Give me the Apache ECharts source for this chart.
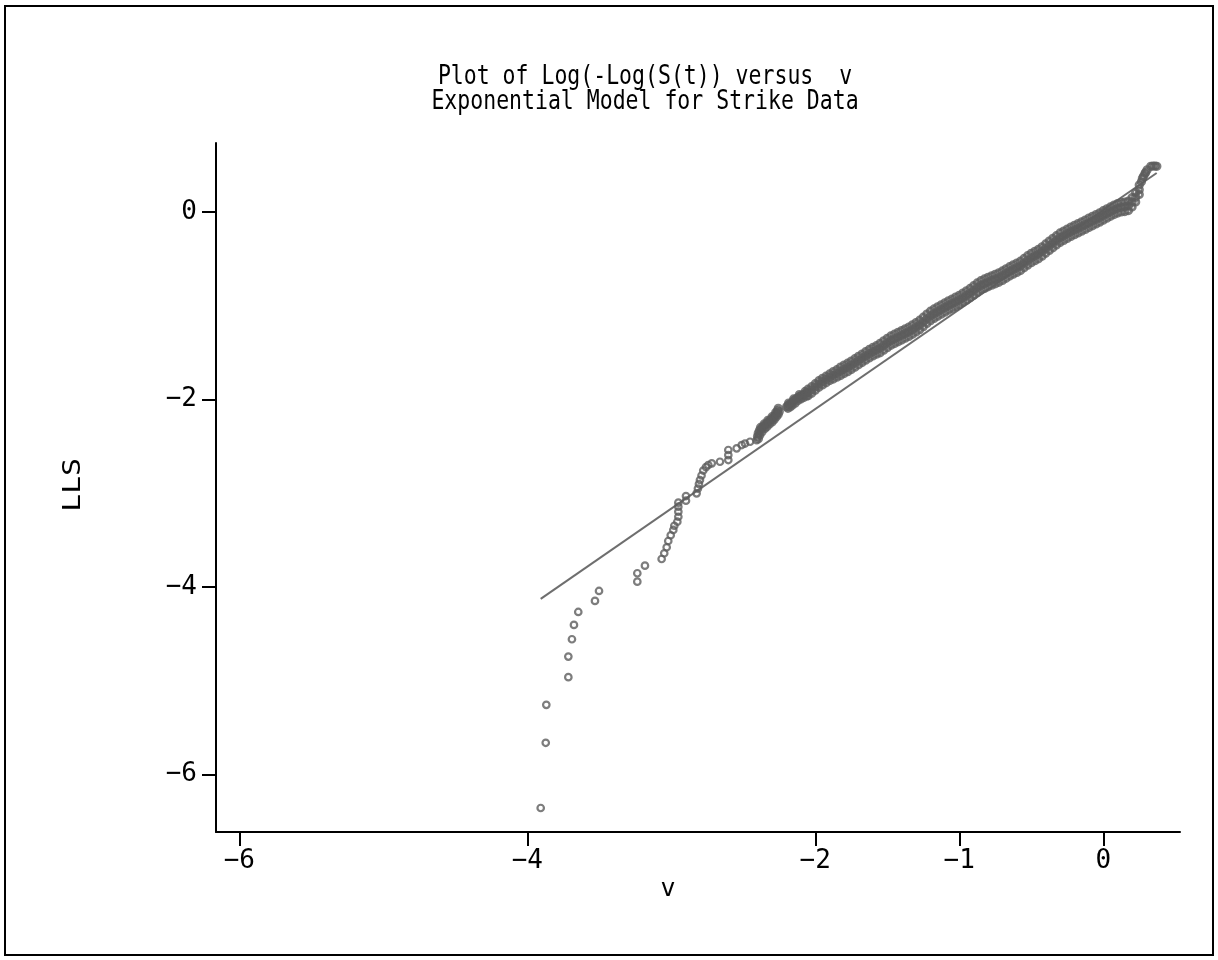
<!DOCTYPE html>
<html>
<head>
<meta charset="utf-8">
<script src="https://cdn.jsdelivr.net/npm/echarts@6/dist/echarts.min.js"></script>
<style>
html,body{margin:0;padding:0;background:#fff;}
#chart{width:1218px;height:960px;}
</style>
</head>
<body>
<div id="chart"></div>
<script>
// ---- Data ----
const titleLines = ["Plot of Log(-Log(S(t)) versus  v", "Exponential Model for Strike Data"];
const xAxisName = "v";
const yAxisName = "LLS";
const xTickValues = [-6, -4, -2, -1, 0];
const yTickValues = [0, -2, -4, -6];

// individual (separable) points: [v, LLS]
const sparsePoints = [
  [-3.907,-6.360],[-3.872,-5.664],[-3.868,-5.259],[-3.715,-4.964],[-3.715,-4.744],
  [-3.690,-4.559],[-3.676,-4.406],[-3.646,-4.268],[-3.530,-4.150],[-3.502,-4.044],
  [-3.236,-3.945],[-3.236,-3.855],[-3.183,-3.774],[-3.067,-3.703],[-3.049,-3.642],
  [-3.032,-3.578],[-3.021,-3.511],[-3.004,-3.450],[-2.986,-3.393],[-2.979,-3.348],
  [-2.958,-3.305],[-2.951,-3.252],[-2.951,-3.198],[-2.951,-3.145],[-2.951,-3.102],
  [-2.898,-3.081],[-2.898,-3.031],[-2.824,-3.002],[-2.815,-2.951],[-2.808,-2.903],
  [-2.801,-2.860],[-2.790,-2.812],[-2.778,-2.759],[-2.759,-2.722],[-2.743,-2.700],
  [-2.719,-2.682],[-2.662,-2.665],[-2.604,-2.647],[-2.604,-2.594],[-2.604,-2.540],
  [-2.546,-2.522],[-2.511,-2.487],[-2.488,-2.471],[-2.453,-2.452],[-2.407,-2.434]
];

// denser clusters between v = -2.41 and -2.04: [v, LLS]
const clusterPoints = [
  [-2.401,-2.397],[-2.396,-2.362],[-2.388,-2.333],[-2.372,-2.309],[-2.360,-2.290],
  [-2.349,-2.274],[-2.335,-2.258],[-2.326,-2.242],[-2.315,-2.226],[-2.304,-2.210],
  [-2.292,-2.194],[-2.280,-2.173],[-2.268,-2.146],[-2.262,-2.119],[-2.257,-2.096],
  [-2.380,-2.300],[-2.355,-2.262],[-2.330,-2.225],[-2.300,-2.185],[-2.275,-2.140],
  [-2.395,-2.420],[-2.385,-2.380],[-2.370,-2.345],[-2.350,-2.310],[-2.335,-2.290],
  [-2.318,-2.262],[-2.300,-2.240],[-2.285,-2.215],[-2.270,-2.185],[-2.258,-2.160],
  [-2.250,-2.130],
  [-2.199,-2.079],[-2.190,-2.066],[-2.180,-2.053],[-2.164,-2.039],[-2.155,-2.023],
  [-2.145,-2.007],[-2.129,-1.989],[-2.117,-1.979],[-2.106,-1.968],[-2.096,-1.960],
  [-2.083,-1.952],[-2.071,-1.940],[-2.061,-1.933],
  [-2.190,-2.095],[-2.175,-2.080],[-2.160,-2.062],[-2.140,-2.040],[-2.120,-2.012],
  [-2.100,-1.995],[-2.080,-1.978],[-2.060,-1.962],[-2.185,-2.040],[-2.150,-1.995],
  [-2.110,-1.948],[-2.070,-1.915]
];

// dense band (overlapping ties): [v, upper LLS, middle LLS, lower LLS]
const bandRows = [
  [-2.050,-1.891,-1.926,-1.961],[-2.025,-1.865,-1.900,-1.935],[-2.000,-1.833,-1.868,-1.903],
  [-1.975,-1.801,-1.836,-1.871],[-1.950,-1.775,-1.810,-1.845],[-1.925,-1.752,-1.787,-1.822],
  [-1.900,-1.729,-1.764,-1.799],[-1.875,-1.703,-1.743,-1.783],[-1.850,-1.683,-1.723,-1.763],
  [-1.825,-1.655,-1.700,-1.745],[-1.800,-1.634,-1.679,-1.724],[-1.775,-1.614,-1.659,-1.704],
  [-1.750,-1.591,-1.636,-1.681],[-1.725,-1.566,-1.611,-1.656],[-1.700,-1.541,-1.586,-1.631],
  [-1.675,-1.516,-1.561,-1.606],[-1.650,-1.491,-1.536,-1.581],[-1.625,-1.467,-1.512,-1.557],
  [-1.600,-1.446,-1.491,-1.536],[-1.575,-1.427,-1.472,-1.517],[-1.550,-1.402,-1.452,-1.502],
  [-1.525,-1.375,-1.425,-1.475],[-1.500,-1.348,-1.398,-1.448],[-1.475,-1.323,-1.373,-1.423],
  [-1.450,-1.304,-1.354,-1.404],[-1.425,-1.285,-1.335,-1.385],[-1.400,-1.266,-1.316,-1.366],
  [-1.375,-1.247,-1.297,-1.347],[-1.350,-1.228,-1.278,-1.328],[-1.325,-1.205,-1.255,-1.305],
  [-1.300,-1.180,-1.230,-1.280],[-1.275,-1.155,-1.205,-1.255],[-1.250,-1.123,-1.173,-1.223],
  [-1.225,-1.090,-1.140,-1.190],[-1.200,-1.059,-1.109,-1.159],[-1.175,-1.035,-1.085,-1.135],
  [-1.150,-1.013,-1.063,-1.113],[-1.125,-0.991,-1.041,-1.091],[-1.100,-0.969,-1.019,-1.069],
  [-1.075,-0.948,-0.998,-1.048],[-1.050,-0.929,-0.979,-1.029],[-1.025,-0.909,-0.959,-1.009],
  [-1.000,-0.889,-0.939,-0.989],[-0.975,-0.866,-0.916,-0.966],[-0.950,-0.841,-0.891,-0.941],
  [-0.925,-0.816,-0.866,-0.916],[-0.900,-0.787,-0.837,-0.887],[-0.875,-0.758,-0.808,-0.858],
  [-0.850,-0.733,-0.783,-0.833],[-0.825,-0.715,-0.765,-0.815],[-0.800,-0.698,-0.748,-0.798],
  [-0.775,-0.681,-0.731,-0.781],[-0.750,-0.666,-0.716,-0.766],[-0.725,-0.650,-0.700,-0.750],
  [-0.700,-0.630,-0.680,-0.730],[-0.675,-0.607,-0.657,-0.707],[-0.650,-0.584,-0.634,-0.684],
  [-0.625,-0.564,-0.614,-0.664],[-0.600,-0.545,-0.595,-0.645],[-0.575,-0.525,-0.575,-0.625],
  [-0.550,-0.496,-0.546,-0.596],[-0.525,-0.467,-0.517,-0.567],[-0.500,-0.441,-0.491,-0.541],
  [-0.475,-0.420,-0.470,-0.520],[-0.450,-0.399,-0.449,-0.499],[-0.425,-0.372,-0.422,-0.472],
  [-0.400,-0.341,-0.391,-0.441],[-0.375,-0.310,-0.360,-0.410],[-0.350,-0.282,-0.332,-0.382],
  [-0.325,-0.253,-0.303,-0.353],[-0.300,-0.224,-0.274,-0.324],[-0.275,-0.204,-0.254,-0.304],
  [-0.250,-0.182,-0.232,-0.282],[-0.225,-0.161,-0.211,-0.261],[-0.200,-0.142,-0.192,-0.242],
  [-0.175,-0.124,-0.174,-0.224],[-0.150,-0.105,-0.155,-0.205],[-0.125,-0.086,-0.136,-0.186],
  [-0.100,-0.066,-0.116,-0.166],[-0.075,-0.047,-0.097,-0.147],[-0.050,-0.028,-0.078,-0.128],
  [-0.025,-0.009,-0.059,-0.109],[0.000,0.013,-0.037,-0.087],[0.025,0.034,-0.016,-0.066],
  [0.050,0.054,0.004,-0.046],[0.075,0.073,0.023,-0.027],[0.100,0.089,0.039,-0.011],
  [0.125,0.101,0.051,0.001],[0.150,0.105,0.055,0.005],[0.175,0.116,0.066,0.016],
  [0.200,0.154,0.104,0.054],[0.225,0.207,0.157,0.107],[0.250,0.287,0.237,0.187]
];

// top end of the curve: [v, LLS]
const tailPoints = [
  [0.265,0.322],[0.272,0.360],[0.280,0.381],[0.290,0.410],[0.295,0.423],
  [0.305,0.450],[0.330,0.487],[0.345,0.490],[0.360,0.490],[0.372,0.487]
];

// fitted straight line endpoints
const fitV = [-3.907, 0.371];
const fitLLS = [-4.129, 0.416];

// ---- Build ----
const denseData = clusterPoints.slice();
bandRows.forEach(r => {
  denseData.push([r[0], r[1]]);
  denseData.push([r[0], r[2]]);
  denseData.push([r[0], r[3]]);
});
tailPoints.forEach(p => denseData.push(p));
const lineData = fitV.map((v, i) => [v, fitLLS[i]]);

const FONT = "DejaVu Sans Mono";
const fmt = v => String(v).replace('-', '\u2212');
const markerColor = '#5c5c5c';
const chart = echarts.init(document.getElementById('chart'), null, {renderer: 'canvas'});
chart.setOption({
  animation: false,
  backgroundColor: '#fff',
  grid: {left: 216, right: 38, top: 143, bottom: 128},
  xAxis: {
    type: 'value', min: -6.162, max: 0.533,
    axisLine: {show: true, onZero: false, lineStyle: {color: '#000', width: 2}},
    axisTick: {show: true, length: 14, customValues: xTickValues, lineStyle: {color: '#000', width: 2}},
    axisLabel: {show: true, customValues: xTickValues, margin: 16, color: '#000', fontFamily: FONT, fontSize: 26,
      formatter: fmt},
    splitLine: {show: false}
  },
  yAxis: {
    type: 'value', min: -6.616, max: 0.736,
    axisLine: {show: true, onZero: false, lineStyle: {color: '#000', width: 2}},
    axisTick: {show: true, length: 14, customValues: yTickValues, lineStyle: {color: '#000', width: 2}},
    axisLabel: {show: true, customValues: yTickValues, margin: 19, color: '#000', fontFamily: FONT, fontSize: 26,
      formatter: fmt},
    splitLine: {show: false}
  },
  series: [
    {
      type: 'line', data: lineData, symbol: 'none', silent: true,
      lineStyle: {color: '#6e6e6e', width: 2}, z: 2
    },
    {
      type: 'scatter', data: sparsePoints, symbol: 'circle', symbolSize: 6.5, silent: true,
      itemStyle: {color: 'rgba(0,0,0,0)', borderColor: markerColor, borderWidth: 2.2}, z: 3
    },
    {
      type: 'scatter', data: denseData, symbol: 'circle', symbolSize: 6.5, silent: true,
      itemStyle: {color: 'rgba(0,0,0,0)', borderColor: markerColor, borderWidth: 2.8}, z: 3
    }
  ],
  graphic: [
    {type: 'rect', shape: {x: 5, y: 6, width: 1208, height: 949}, style: {fill: 'none', stroke: '#000', lineWidth: 2}, silent: true},
    {type: 'text', x: 645, y: 77, scaleY: 1.2, style: {text: titleLines[0], fill: '#000', font: '21.5px "DejaVu Sans Mono"', textAlign: 'center', textVerticalAlign: 'middle'}},
    {type: 'text', x: 645, y: 102, scaleY: 1.2, style: {text: titleLines[1], fill: '#000', font: '21.5px "DejaVu Sans Mono"', textAlign: 'center', textVerticalAlign: 'middle'}},
    {type: 'text', x: 668, y: 889, style: {text: xAxisName, fill: '#000', font: '25px "DejaVu Sans Mono"', textAlign: 'center', textVerticalAlign: 'middle'}},
    {type: 'text', x: 73, y: 485, rotation: Math.PI / 2, scaleX: 1.2, style: {text: yAxisName, fill: '#000', font: '25px "DejaVu Sans Mono"', textAlign: 'center', textVerticalAlign: 'middle'}}
  ]
});
</script>
</body>
</html>
